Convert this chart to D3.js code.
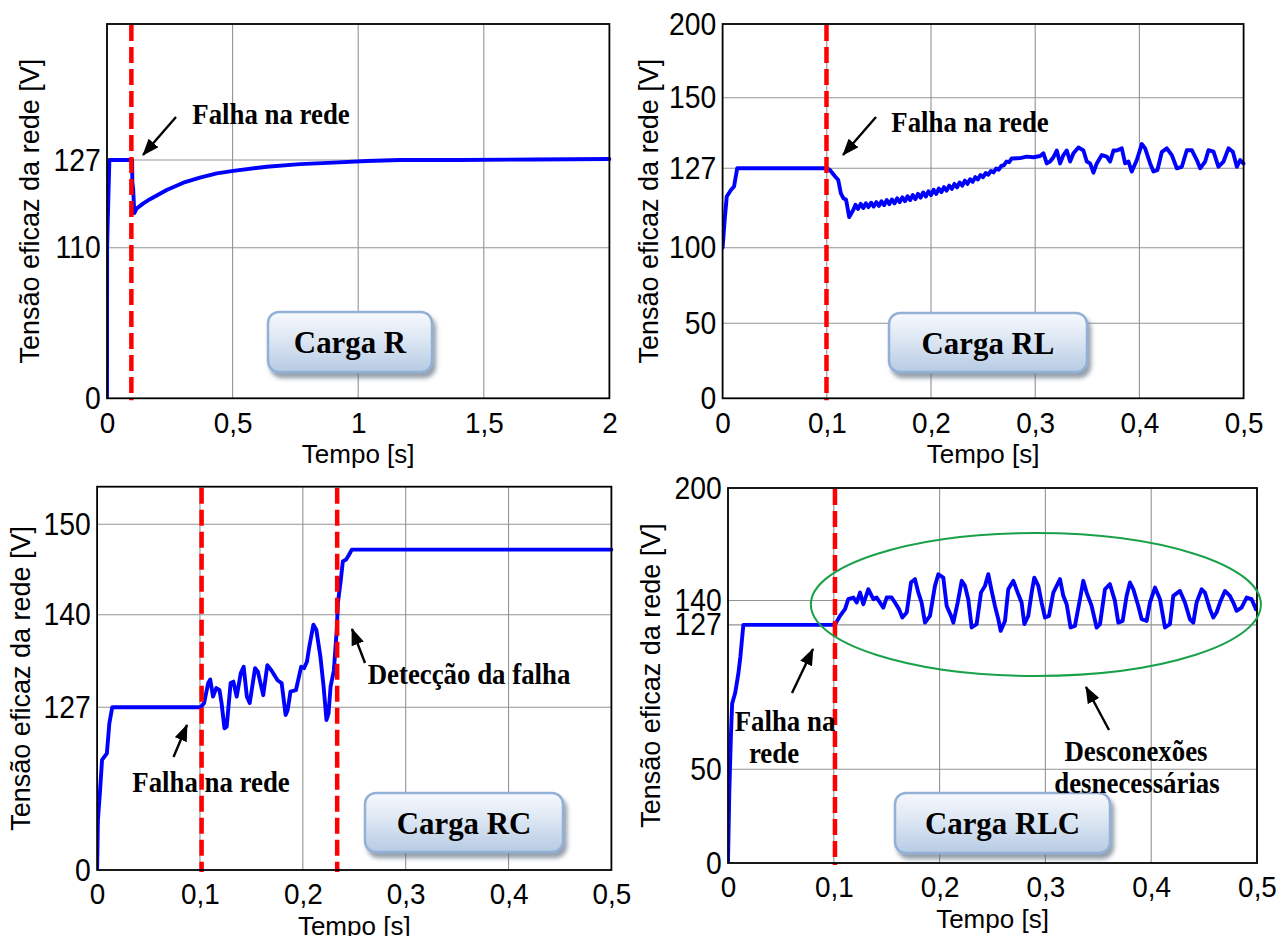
<!DOCTYPE html>
<html><head><meta charset="utf-8">
<script src="https://cdn.jsdelivr.net/npm/d3@7"></script>
<style>body{margin:0;background:#fff}svg{display:block}</style>
</head><body>
<svg id="chart" width="1287" height="936"></svg>
<script>
// ---------------- DATA ----------------
const yAxisTitle = "Tensão eficaz da rede [V]";
const xAxisTitle = "Tempo [s]";
const loadNames = ["Carga R", "Carga RL", "Carga RC", "Carga RLC"];

const xTicksR = [0, 0.5, 1, 1.5, 2];
const xTicksShort = [0, 0.1, 0.2, 0.3, 0.4, 0.5];
const yTicksR = [0, 110, 127];
const yTicksRL = [0, 50, 100, 127, 150, 200];
const yTicksRC = [0, 127, 140, 150];
const yTicksRLC = [0, 50, 127, 140, 200];

const faultTimesR = [0.097];
const faultTimesRL = [0.0997];
const faultTimesRC = [0.1016, 0.2334];
const faultTimesRLC = [0.1011];

// [tempo (s), tensão eficaz (V)]
const seriesR = [[0,0],[0.0005,110],[0.003,115.4],[0.0045,118],[0.0095,127],[0.1,127],[0.1008,122.8],[0.104,121.5],[0.1088,116.7],[0.118,117.6],[0.1446,118.6],[0.171,119.4],[0.2376,121.2],[0.304,122.6],[0.37,123.6],[0.437,124.4],[0.503,124.9],[0.636,125.7],[0.768,126.2],[0.901,126.5],[1.034,126.8],[1.166,127],[1.4,127],[1.7,127.1],[2.0,127.2]];

const seriesRL = [[0,100],[0.002,109.5],[0.004,117.4],[0.008,119.6],[0.011,120.8],[0.014,127],[0.1,127],[0.103,126.4],[0.108,124.2],[0.111,123],[0.1135,118.5],[0.116,116.8],[0.1185,116.3],[0.1215,110.4],[0.1255,112.9],
[0.1275,114.6],[0.13,113.2],[0.1325,114.9],[0.135,113.5],[0.1375,115.1],[0.14,113.8],[0.1425,115.3],[0.145,114.0],[0.1475,115.5],[0.15,114.2],[0.1525,115.8],[0.155,114.5],[0.1575,116.2],[0.16,114.8],[0.1625,116.4],[0.165,115.1],[0.1675,116.8],[0.17,115.5],[0.1725,117.1],[0.175,115.8],[0.1775,117.5],[0.18,116.2],[0.1825,117.9],[0.185,116.5],[0.1875,118.3],[0.19,117.0],[0.1925,118.8],[0.195,117.4],[0.1975,119.2],[0.2,117.9],[0.2025,119.7],[0.205,118.3],[0.2075,120.1],[0.21,118.9],[0.2125,120.6],[0.215,119.4],[0.2175,121.1],[0.22,120.0],[0.2225,121.7],[0.225,120.5],[0.2275,122.2],[0.23,121.1],[0.2325,122.8],[0.235,121.7],[0.2375,123.3],[0.24,122.4],[0.2425,124.0],[0.245,123.2],[0.2475,124.7],[0.25,124.0],[0.2525,125.4],[0.255,124.8],[0.2575,126.1],[0.26,125.6],[0.2625,126.9],[0.265,126.5],[0.2675,127.8],[0.27,128.0],[0.2725,129.2],[0.275,129.0],[0.2775,130.2],
[0.2855,130.3],[0.2919,130.8],[0.2983,130.6],[0.3047,131.0],[0.3079,131.9],[0.3111,128.6],[0.3143,129.2],[0.3175,130.6],[0.3207,132.8],[0.3239,128.6],[0.3271,131.3],[0.3303,132.8],[0.3335,129.2],[0.3367,131.9],[0.3415,133.8],[0.3463,132.8],[0.3495,129.2],[0.3527,128.6],[0.3559,125.5],[0.3591,128.6],[0.3639,131.3],[0.3687,130.8],[0.3719,129.2],[0.3751,132.8],[0.3783,132.8],[0.3831,133.5],[0.3863,128.6],[0.3895,129.2],[0.3927,125.9],[0.3975,129.7],[0.4023,134.9],[0.4055,133.5],[0.4103,128.6],[0.4135,125.9],[0.4173,126.4],[0.4215,132.3],[0.4263,133.5],[0.4311,131.3],[0.4359,127.0],[0.4407,127.5],[0.4455,132.9],[0.4503,132.9],[0.4551,129.7],[0.4583,127.0],[0.4631,129.2],[0.4663,132.9],[0.4711,132.4],[0.4759,127.5],[0.4807,129.2],[0.4855,133.5],[0.4897,132.4],[0.4935,127.5],[0.4967,129.7],[0.5,128.5]];

const seriesRC = [[0,0],[0.0008,39],[0.0028,61.2],[0.0048,85.9],[0.0095,91.1],[0.0119,114.5],[0.0147,127],[0.1008,127],[0.104,127.6],[0.108,130.4],[0.11,130.9],[0.1127,128.5],[0.1159,129.7],[0.119,129.4],[0.121,127.6],[0.1238,110.6],[0.126,111.9],[0.1298,130.4],[0.1325,130.6],[0.1357,128.5],[0.1397,131.8],[0.1425,132.7],[0.1456,128.5],[0.1484,127.6],[0.1536,132.5],[0.1563,132.0],[0.1615,128.7],[0.1655,132.9],[0.1694,132.2],[0.1754,130.8],[0.1794,130.4],[0.1833,121.0],[0.1853,124.9],[0.188,129.2],[0.1933,129.4],[0.1984,132.7],[0.2012,132.5],[0.204,133.4],[0.2063,135.5],[0.2103,138.6],[0.2131,137.9],[0.2171,134.1],[0.2202,129.9],[0.223,117.1],[0.225,122.3],[0.227,129.9],[0.2302,132.2],[0.233,137.9],[0.2341,141.3],[0.2369,143.8],[0.2389,145.9],[0.2421,146.1],[0.2448,146.6],[0.2476,147.2],[0.5,147.2]];

const seriesRLC = [[0,0],[0.0012,37],[0.0027,67],[0.0039,85],[0.0067,90.5],[0.0098,101],[0.0117,110],[0.0145,127],[0.101,127],[0.1059,131.8],[0.1106,135.4],[0.1137,140.7],[0.1185,141.6],[0.1216,138.9],[0.1248,144.2],[0.1279,138.0],[0.1326,146.0],[0.1374,140.7],[0.1405,141.6],[0.1437,138.9],[0.1468,136.2],[0.15,141.6],[0.1547,141.6],[0.1578,138.9],[0.1616,135.4],[0.1648,130.9],[0.1689,133.6],[0.173,149.6],[0.1767,151.4],[0.1799,144.2],[0.183,138.9],[0.1862,128.2],[0.1909,131.8],[0.1956,147.8],[0.1988,154.0],[0.2035,152.2],[0.2067,137.1],[0.2108,131.8],[0.213,128.2],[0.2171,138.9],[0.2209,150.5],[0.224,147.8],[0.2271,140.7],[0.2303,125.6],[0.235,127.4],[0.2391,144.2],[0.2429,147.8],[0.246,154.0],[0.2492,145.1],[0.2523,137.1],[0.2555,130.0],[0.2577,123.8],[0.2618,129.1],[0.2649,146.0],[0.2697,150.5],[0.2738,144.2],[0.2775,138.9],[0.2801,127.4],[0.2838,131.8],[0.287,144.2],[0.2895,152.2],[0.2933,147.8],[0.2964,138.9],[0.2996,130.9],[0.3034,131.8],[0.3075,144.2],[0.3138,151.4],[0.3169,142.5],[0.3201,138.0],[0.3238,125.6],[0.3279,126.5],[0.3327,140.7],[0.3358,150.5],[0.339,144.2],[0.3437,137.1],[0.3484,125.6],[0.3516,127.4],[0.3563,146.0],[0.361,148.7],[0.3657,139.8],[0.3689,128.2],[0.373,129.1],[0.3768,142.5],[0.3799,149.6],[0.3831,146.0],[0.3878,137.1],[0.391,130.0],[0.3957,129.1],[0.3988,138.9],[0.4036,146.9],[0.4083,140.7],[0.413,125.6],[0.4177,127.4],[0.4209,142.5],[0.4272,145.1],[0.4319,138.9],[0.4366,130.0],[0.4398,128.2],[0.4429,138.9],[0.4477,146.0],[0.4508,144.2],[0.4555,135.4],[0.4587,130.9],[0.4618,133.6],[0.465,138.9],[0.4697,145.1],[0.4744,142.5],[0.4776,138.9],[0.4807,134.5],[0.4854,136.2],[0.4902,141.6],[0.4949,140.7],[0.499,135.4]];

// região das desconexões (centro t, V ; raios t, V)
const ellipseCenterRLC = [0.291, 137.9];
const ellipseRadiiRLC = [0.2127, 38.1];

// ---------------- LAYOUT ----------------
const SANS = "'Liberation Sans', Arial, Helvetica, sans-serif";
const SERIF = "'Liberation Serif', 'Times New Roman', Times, serif";
const svg = d3.select('#chart');
const defs = svg.append('defs');
const grad = defs.append('linearGradient').attr('id','boxGrad').attr('x1',0).attr('y1',0).attr('x2',0).attr('y2',1);
grad.append('stop').attr('offset','0%').attr('stop-color','#f7f9fd');
grad.append('stop').attr('offset','45%').attr('stop-color','#dde7f3');
grad.append('stop').attr('offset','100%').attr('stop-color','#b6cbe4');
const filt = defs.append('filter').attr('id','shadow').attr('x','-20%').attr('y','-30%').attr('width','150%').attr('height','170%');
filt.append('feDropShadow').attr('dx',3).attr('dy',5).attr('stdDeviation',2).attr('flood-color','#5d6c80').attr('flood-opacity',0.65);
defs.append('marker').attr('id','arrowHead').attr('markerUnits','userSpaceOnUse')
  .attr('markerWidth',18).attr('markerHeight',14).attr('refX',16).attr('refY',6.5).attr('orient','auto')
  .append('path').attr('d','M0,0 L17,6.5 L0,13 Z').attr('fill','#000');

const panels = [
  {left:107, right:609.4, top:24, bottom:398.3, xDomain:[0,2], yDomain:[0,110,127,153.4], yRange:[398.3,247.7,160,24],
   xTicks:xTicksR, yTicks:yTicksR, xGrid:[0.5,1,1.5], yGrid:[110,127], data:seriesR, faults:faultTimesR, yTitleX:30,
   box:{x:268,y:312,w:164,h:60,label:loadNames[0]},
   texts:[{x:271,y:124,t:"Falha na rede"}],
   arrows:[[176,117,143,155]]},
  {left:722.6, right:1243.6, top:24, bottom:398.3, xDomain:[0,0.5], yDomain:[0,50,100,127,150,200], yRange:[398.3,323.3,247.7,168.3,97.7,24],
   xTicks:xTicksShort, yTicks:yTicksRL, xGrid:[0.1,0.2,0.3,0.4], yGrid:[50,100,127,150], data:seriesRL, faults:faultTimesRL, yTitleX:649,
   box:{x:889,y:313,w:198,h:59,label:loadNames[1]},
   texts:[{x:970,y:132,t:"Falha na rede"}],
   arrows:[[876,117,843,155]]},
  {left:97.1, right:611.4, top:486.7, bottom:870, xDomain:[0,0.5], yDomain:[0,127,140,150,154.2], yRange:[870,707.3,614.7,524.3,486.7],
   xTicks:xTicksShort, yTicks:yTicksRC, xGrid:[0.1,0.2,0.3,0.4], yGrid:[127,140,150], data:seriesRC, faults:faultTimesRC, yTitleX:21,
   box:{x:365,y:793,w:198,h:59,label:loadNames[2]},
   texts:[{x:211,y:792,t:"Falha na rede"},{x:469,y:684,t:"Detecção da falha"}],
   arrows:[[173.5,757,187,725],[365,663,352,629]]},
  {left:728, right:1257, top:488, bottom:863, xDomain:[0,0.5], yDomain:[0,200], yRange:[863,488],
   xTicks:xTicksShort, yTicks:yTicksRLC, xGrid:[0.1,0.2,0.3,0.4], yGrid:[50,127,140], data:seriesRLC, faults:faultTimesRLC, yTitleX:651,
   box:{x:895,y:793,w:215,h:60,label:loadNames[3]},
   texts:[{x:785,y:731,t:"Falha na"},{x:774,y:763,t:"rede"},{x:1136,y:761,t:"Desconexões"},{x:1137,y:793,t:"desnecessárias"}],
   arrows:[[792,693,813,649],[1109,730,1086,687]],
   ellipse:true}
];

const fmtComma = d => String(d).replace('.', ',');

panels.forEach((p, i) => {
  const x = d3.scaleLinear().domain(p.xDomain).range([p.left, p.right]);
  const y = d3.scaleLinear().domain(p.yDomain).range(p.yRange);
  const g = svg.append('g');

  // grid
  g.append('g').selectAll('line').data(p.xGrid).join('line')
    .attr('x1', d => x(d)).attr('x2', d => x(d)).attr('y1', p.top).attr('y2', p.bottom)
    .attr('stroke', '#939393').attr('stroke-width', 1.1);
  g.append('g').selectAll('line').data(p.yGrid).join('line')
    .attr('x1', p.left).attr('x2', p.right).attr('y1', d => y(d)).attr('y2', d => y(d))
    .attr('stroke', '#939393').attr('stroke-width', 1.1);

  // clip
  const cid = 'clip' + i;
  defs.append('clipPath').attr('id', cid).append('rect')
    .attr('x', p.left).attr('y', p.top - 2).attr('width', p.right - p.left + 2).attr('height', p.bottom - p.top + 2);

  // curve
  g.append('path').datum(p.data)
    .attr('clip-path', `url(#${cid})`)
    .attr('d', d3.line().x(d => x(d[0])).y(d => y(d[1])))
    .attr('fill', 'none').attr('stroke', '#0000ff').attr('stroke-width', 3.9)
    .attr('stroke-linejoin', 'round').attr('stroke-linecap', 'round');

  // fault lines
  g.append('g').selectAll('line').data(p.faults).join('line')
    .attr('x1', d => x(d)).attr('x2', d => x(d)).attr('y1', p.top + 1).attr('y2', p.bottom + 2)
    .attr('stroke', '#ff0000').attr('stroke-width', 4.5).attr('stroke-dasharray', '16,6');

  // frame
  g.append('rect').attr('x', p.left).attr('y', p.top).attr('width', p.right - p.left).attr('height', p.bottom - p.top)
    .attr('fill', 'none').attr('stroke', '#000').attr('stroke-width', 1.8);

  // axes
  const ax = g.append('g').attr('transform', `translate(0,${p.bottom})`)
    .call(d3.axisBottom(x).tickValues(p.xTicks).tickFormat(fmtComma).tickSize(0).tickPadding(13));
  ax.select('.domain').remove();
  ax.selectAll('text').attr('font-size', 30).attr('font-family', SANS).attr('fill', '#000')
    .attr('transform', 'scale(0.93,1)');
  const ay = g.append('g').attr('transform', `translate(${p.left},0)`)
    .call(d3.axisLeft(y).tickValues(p.yTicks).tickFormat(d => d).tickSize(0).tickPadding(7));
  ay.select('.domain').remove();
  ay.selectAll('text').attr('font-size', 31.5).attr('font-family', SANS).attr('fill', '#000')
    .attr('transform', 'scale(0.9,1)');

  // titles
  g.append('text').attr('x', (p.left + p.right) / 2).attr('y', p.bottom + 56)
    .attr('text-anchor', 'middle').attr('dominant-baseline', 'central')
    .attr('font-family', SANS).attr('font-size', 26).text(xAxisTitle);
  g.append('text').attr('transform', `translate(${p.yTitleX},${(p.top + p.bottom) / 2}) rotate(-90)`)
    .attr('text-anchor', 'middle').attr('dominant-baseline', 'central')
    .attr('font-family', SANS).attr('font-size', 27).text(yAxisTitle);

  // ellipse
  if (p.ellipse) {
    const [ct, cv] = ellipseCenterRLC, [rt, rv] = ellipseRadiiRLC;
    g.append('ellipse').attr('cx', x(ct)).attr('cy', y(cv))
      .attr('rx', x(ct + rt) - x(ct)).attr('ry', y(cv - rv) - y(cv))
      .attr('fill', 'none').attr('stroke', '#19a14a').attr('stroke-width', 2);
  }

  // box
  const b = p.box;
  g.append('rect').attr('x', b.x).attr('y', b.y).attr('width', b.w).attr('height', b.h).attr('rx', 11)
    .attr('fill', 'url(#boxGrad)').attr('stroke', '#93b1d6').attr('stroke-width', 2.5).attr('filter', 'url(#shadow)');
  g.append('text').attr('transform', `translate(${b.x + b.w / 2},${b.y + b.h / 2 + 11}) scale(0.95,1)`)
    .attr('text-anchor', 'middle').attr('font-family', SERIF).attr('font-weight', 'bold').attr('font-size', 32.5)
    .text(b.label);

  // annotations
  p.texts.forEach(t => {
    g.append('text').attr('transform', `translate(${t.x},${t.y}) scale(0.91,1)`).attr('text-anchor', 'middle')
      .attr('font-family', SERIF).attr('font-weight', 'bold').attr('font-size', 29.5).text(t.t);
  });
  p.arrows.forEach(a => {
    g.append('line').attr('x1', a[0]).attr('y1', a[1]).attr('x2', a[2]).attr('y2', a[3])
      .attr('stroke', '#000').attr('stroke-width', 2.4).attr('marker-end', 'url(#arrowHead)');
  });
});
</script>
</body></html>
